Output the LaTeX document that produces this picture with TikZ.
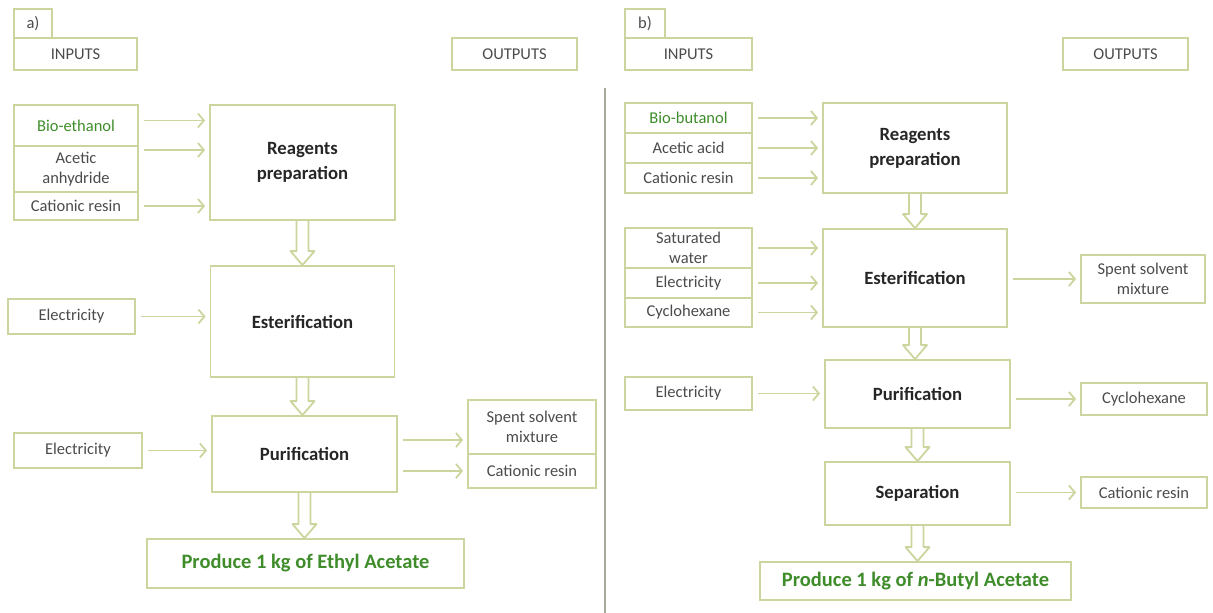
\documentclass[tikz,border=0pt]{standalone}
\usepackage{fontspec}
\setmainfont{Carlito}
\usetikzlibrary{arrows.meta,calc}
\definecolor{boxline}{RGB}{204,213,158}
\definecolor{txtgrey}{RGB}{75,75,75}
\definecolor{leafgreen}{RGB}{62,140,42}
\definecolor{divider}{RGB}{165,170,155}

\newcommand{\hollowarrow}[2]{%
  \draw[boxline, line width=1.8pt, line join=round]
    let \p1=(#1.south), \p2=(#2.north) in
    (\x1-6pt,\y1) -- (\x1-6pt,\y2+14pt) -- (\x1-12pt,\y2+14pt) -- (\x1,\y2)
    -- (\x1+12pt,\y2+14pt) -- (\x1+6pt,\y2+14pt) -- (\x1+6pt,\y1);}

\begin{document}
\begin{tikzpicture}[
  x=1pt, y=-1pt,
  box/.style={rectangle, draw=boxline, line width=1.8pt, align=center,
              font=\fontsize{16.5}{20}\selectfont, text=txtgrey, inner sep=2pt},
  sz/.style 2 args={minimum width=#1, minimum height=#2},
  stage/.style={box, font=\fontsize{18.7}{25}\selectfont\bfseries, text=black!85},
  goal/.style={box, font=\fontsize{20.5}{24}\selectfont\bfseries, text=leafgreen},
  arr/.style={draw=boxline, line width=1.8pt,
              -{Straight Barb[length=6pt,width=14pt]},
              shorten <=5pt, shorten >=4pt}
]
\useasboundingbox (0,0) rectangle (1213,613);

% a) ethyl acetate
\node[box, sz={38pt}{29pt}] (taba) at (33,23.5) {a)};
\node[box, sz={123pt}{32pt}] (ina)  at (75.5,54) {INPUTS};
\node[box, sz={125pt}{32pt}] (outa) at (514.5,54) {OUTPUTS};

\node[box, sz={124pt}{41pt}, text=leafgreen] (ethanol) at (76,125.5) {Bio-ethanol};
\node[box, sz={124pt}{46pt}] (anhyd)  at (76,169) {Acetic\\anhydride};
\node[box, sz={124pt}{28pt}] (resina) at (76,206) {Cationic resin};
\node[box, sz={127pt}{35pt}] (ela1)   at (71.5,316.5) {Electricity};
\node[box, sz={128pt}{35pt}] (ela2)   at (78,450.5) {Electricity};

\node[stage, sz={185pt}{115pt}] (rpa) at (302.5,162.5) {Reagents\\preparation};
\node[stage, sz={184pt}{111pt}] (esa) at (302.5,321.5) {Esterification};
\node[stage, sz={185pt}{76pt}]  (pua) at (304.5,454) {Purification};
\node[goal,  sz={317pt}{49pt}]  (proda) at (305.5,563.5) {Produce 1 kg of Ethyl Acetate};

\node[box, sz={128pt}{54pt}] (spenta) at (532,427) {Spent solvent\\mixture};
\node[box, sz={128pt}{34pt}] (cresa)  at (532,471) {Cationic resin};

\draw[arr] ([yshift=5pt]ethanol.east) -- ([yshift=5pt]ethanol.east -| rpa.west);
\draw[arr] ([yshift=19pt]anhyd.east) -- ([yshift=19pt]anhyd.east -| rpa.west);
\draw[arr] (resina.east) -- (resina.east -| rpa.west);
\draw[arr] (ela1.east) -- (ela1.east -| esa.west);
\draw[arr] (ela2.east) -- (ela2.east -| pua.west);
\draw[arr] ([yshift=14pt]pua.east) -- ([yshift=-13pt]spenta.west);
\draw[arr] (cresa.west -| pua.east) -- (cresa.west);
\hollowarrow{rpa}{esa}
\hollowarrow{esa}{pua}
\hollowarrow{pua}{proda}

\draw[divider, line width=1.2pt] (605,88) -- (605,613);

% b) n-butyl acetate
\node[box, sz={40pt}{29pt}]  (tabb) at (645,23.5) {b)};
\node[box, sz={127pt}{32pt}] (inb)  at (688.5,54) {INPUTS};
\node[box, sz={125pt}{32pt}] (outb) at (1125.5,54) {OUTPUTS};

\node[box, sz={127pt}{30pt}, text=leafgreen] (butanol) at (688.5,118) {Bio-butanol};
\node[box, sz={127pt}{30pt}] (acetic) at (688.5,148) {Acetic acid};
\node[box, sz={127pt}{30pt}] (resinb) at (688.5,178) {Cationic resin};
\node[box, sz={127pt}{40pt}] (water)  at (688.5,248) {Saturated\\water};
\node[box, sz={127pt}{30pt}] (elb1)   at (688.5,283) {Electricity};
\node[box, sz={127pt}{29pt}] (cyclo)  at (688.5,312.5) {Cyclohexane};
\node[box, sz={127pt}{33pt}] (elb2)   at (688.5,393.5) {Electricity};

\node[stage, sz={184pt}{90pt}] (rpb) at (915,148) {Reagents\\preparation};
\node[stage, sz={184pt}{98pt}] (esb) at (915,278) {Esterification};
\node[stage, sz={185pt}{68pt}] (pub) at (917.5,394) {Purification};
\node[stage, sz={185pt}{63pt}] (sep) at (917.5,493.5) {Separation};
\node[goal,  sz={311pt}{38pt}] (prodb) at (915.5,581) {Produce 1 kg of \textit{n}-Butyl Acetate};

\node[box, sz={124pt}{48pt}] (spentb) at (1143,279) {Spent solvent\\mixture};
\node[box, sz={126pt}{32pt}] (cyclob) at (1144,399) {Cyclohexane};
\node[box, sz={126pt}{31pt}] (cresb)  at (1144,492.5) {Cationic resin};

\draw[arr] (butanol.east) -- (butanol.east -| rpb.west);
\draw[arr] (acetic.east) -- (acetic.east -| rpb.west);
\draw[arr] (resinb.east) -- (resinb.east -| rpb.west);
\draw[arr] (water.east) -- (water.east -| esb.west);
\draw[arr] (elb1.east) -- (elb1.east -| esb.west);
\draw[arr] (cyclo.east) -- (cyclo.east -| esb.west);
\draw[arr] (elb2.east) -- (elb2.east -| pub.west);
\draw[arr] (spentb.west -| esb.east) -- (spentb.west);
\draw[arr] (cyclob.west -| pub.east) -- (cyclob.west);
\draw[arr] (cresb.west -| sep.east) -- (cresb.west);
\hollowarrow{rpb}{esb}
\hollowarrow{esb}{pub}
\hollowarrow{pub}{sep}
\hollowarrow{sep}{prodb}
\end{tikzpicture}
\end{document}
